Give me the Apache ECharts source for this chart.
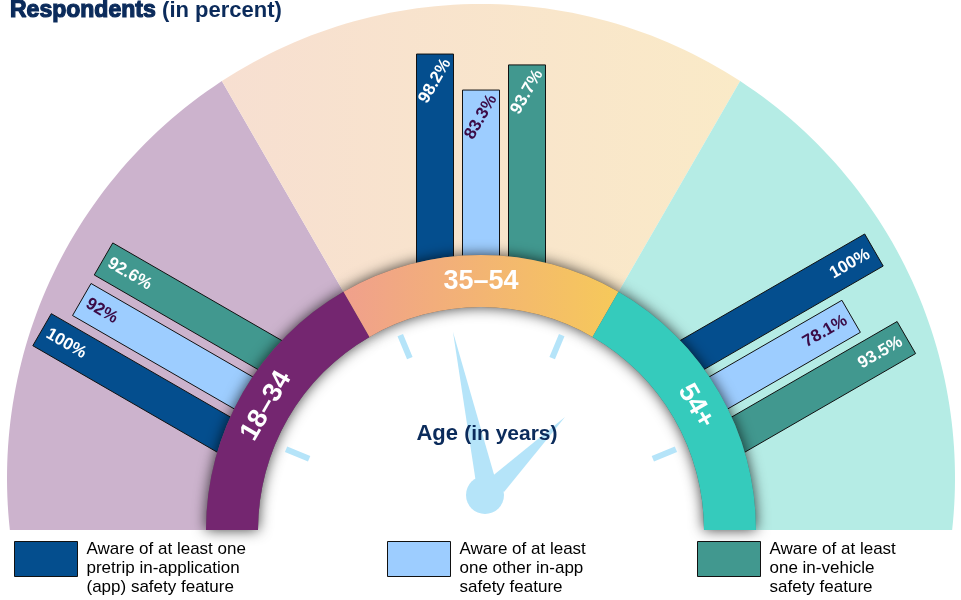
<!DOCTYPE html>
<html>
<head>
<meta charset="utf-8">
<script src="https://cdn.jsdelivr.net/npm/echarts@6/dist/echarts.min.js"></script>
<style>
  html, body { margin: 0; padding: 0; background: #ffffff; }
  #chart { width: 961px; height: 600px; }
</style>
</head>
<body>
<div id="chart"></div>
<script>
// ---- data ----
const ageGroups = ['18–34', '35–54', '54+'];
const pretripApp = [100, 98.2, 100];
const otherInApp = [92, 83.3, 78.1];
const inVehicle = [92.6, 93.7, 93.5];
const featureNames = [
  'Aware of at least one\npretrip in-application\n(app) safety feature',
  'Aware of at least\none other in-app\nsafety feature',
  'Aware of at least\none in-vehicle\nsafety feature'
];
const titleMain = 'Respondents';
const titleUnit = '(in percent)';
const hubMain = 'Age';
const hubUnit = '(in years)';

// ---- styling / layout ----
const NAVY = '#0b2b5b';
const FONT = '"Liberation Sans", Arial, Helvetica, sans-serif';
const CX = 481, CY = 530;            // gauge centre
const BAND_R0 = 223, BAND_R = 275;   // age ring
const BACK_R = 474, BACK_DY = 52;    // backdrop circle (centre raised by BACK_DY)
const BAR_W = 37, BAR_STEP = 46;
const barColors = ['#044e8e', '#9dcdff', '#41988f'];
const barText = ['#ffffff', '#3b0b46', '#ffffff'];
const backdropFill = [
  '#ccb3cd',
  { type: 'linear', x: 0, y: 0, x2: 1, y2: 0, colorStops: [{ offset: 0, color: '#f7dfd1' }, { offset: 1, color: '#faeac7' }] },
  '#b5ece5'
];
const bandFill = [
  '#742670',
  { type: 'linear', x: 0, y: 0, x2: 1, y2: 0, colorStops: [{ offset: 0, color: '#f0a08c' }, { offset: 1, color: '#f6c95a' }] },
  '#35cbbc'
];
// value-label placement per age group: rotation (deg), alignment, inset from bar end
const labelPlacement = [
  { rot: -30, align: 'left', inset: 6 },
  { rot: 60, align: 'center', inset: 27 },
  { rot: 30, align: 'right', inset: 6 }
];
const ACCENT = '#b5e4f9';

function rayAngle(params, api) {
  const cs = params.coordSys;
  const p = api.coord([50, api.value(1)]);
  return Math.atan2(cs.cy - p[1], p[0] - cs.cx);
}

function backR(a) {
  const s = Math.sin(a);
  return BACK_DY * s + Math.sqrt(BACK_DY * BACK_DY * s * s - BACK_DY * BACK_DY + BACK_R * BACK_R);
}

function backdropItem(params, api) {
  const cs = params.coordSys;
  const mid = rayAngle(params, api);
  const half = Math.PI / ageGroups.length / 2;
  const pts = [];
  const N = 60;
  for (let k = 0; k <= N; k++) {
    const a = mid - half + 2 * half * k / N;
    const r = backR(a);
    pts.push([cs.cx + r * Math.cos(a), cs.cy - r * Math.sin(a)]);
  }
  for (let k = N; k >= 0; k--) {
    const a = mid - half + 2 * half * k / N;
    pts.push([cs.cx + BAND_R0 * Math.cos(a), cs.cy - BAND_R0 * Math.sin(a)]);
  }
  return { type: 'polygon', shape: { points: pts }, style: { fill: backdropFill[api.value(1)] }, silent: true };
}

function bandItem(params, api) {
  const cs = params.coordSys;
  const idx = api.value(1);
  const mid = rayAngle(params, api);
  const half = Math.PI / ageGroups.length / 2;
  const shape = { cx: cs.cx, cy: cs.cy, r0: BAND_R0, r: BAND_R, startAngle: -(mid + half), endAngle: -(mid - half), clockwise: true };
  const rm = (BAND_R0 + BAND_R) / 2 - 1;
  return {
    type: 'group',
    children: [
      { type: 'sector', z2: 0, shape: shape, style: { fill: '#666', shadowBlur: 14, shadowColor: 'rgba(0,0,0,0.75)' } },
      { type: 'sector', z2: 1, shape: shape, style: { fill: bandFill[idx] } },
      {
        type: 'text', z2: 2,
        x: cs.cx + rm * Math.cos(mid), y: cs.cy - rm * Math.sin(mid),
        rotation: mid - Math.PI / 2,
        style: { text: ageGroups[idx], fill: '#ffffff', font: 'bold 27px ' + FONT, align: 'center', verticalAlign: 'middle' }
      }
    ]
  };
}

function barRenderer(slot) {
  return function (params, api) {
    const cs = params.coordSys;
    const idx = api.value(1);
    const v = api.value(0);
    const end = api.coord([v, idx]);
    const base = api.coord([0, idx]);
    const dx = end[0] - cs.cx, dy = end[1] - cs.cy;
    const len = Math.hypot(dx, dy);
    const ux = dx / len, uy = dy / len;
    const px = -uy, py = ux;
    const off = (slot - 1) * BAR_STEP;
    const h = BAR_W / 2;
    const pts = [
      [base[0] + px * (off - h), base[1] + py * (off - h)],
      [end[0] + px * (off - h), end[1] + py * (off - h)],
      [end[0] + px * (off + h), end[1] + py * (off + h)],
      [base[0] + px * (off + h), base[1] + py * (off + h)]
    ];
    const lp = labelPlacement[idx];
    const lx = end[0] + px * off - ux * lp.inset;
    const ly = end[1] + py * off - uy * lp.inset;
    return {
      type: 'group',
      children: [
        { type: 'polygon', shape: { points: pts }, style: { fill: barColors[slot], stroke: '#111', lineWidth: 1 } },
        {
          type: 'text', x: lx, y: ly, rotation: lp.rot * Math.PI / 180,
          style: { text: v + '%', fill: barText[slot], font: 'bold 17px ' + FONT, align: lp.align, verticalAlign: 'middle' }
        }
      ]
    };
  };
}

const featureValues = [pretripApp, otherInApp, inVehicle];

const series = [
  {
    type: 'custom', name: 'backdrop', coordinateSystem: 'polar', z: 1, silent: true,
    renderItem: backdropItem, data: ageGroups.map((g, i) => [0, i])
  }
].concat(featureValues.map((vals, s) => ({
  type: 'custom', name: featureNames[s], coordinateSystem: 'polar', z: 2,
  itemStyle: { color: barColors[s], borderColor: '#111', borderWidth: 1 },
  renderItem: barRenderer(s), data: vals.map((v, i) => [v, i])
}))).concat([
  {
    type: 'custom', name: 'age ring', coordinateSystem: 'polar', z: 3, silent: true,
    renderItem: bandItem, data: ageGroups.map((g, i) => [0, i])
  }
]);

// clock face decoration (hour marks, hands, hub)
const graphics = [];
[22.5, 67.5, 112.5, 157.5].forEach(function (deg) {
  const a = deg * Math.PI / 180;
  graphics.push({
    type: 'line', z: 4, silent: true,
    shape: { x1: CX + 186 * Math.cos(a), y1: CY - 186 * Math.sin(a), x2: CX + 211 * Math.cos(a), y2: CY - 211 * Math.sin(a) },
    style: { stroke: ACCENT, lineWidth: 6 }
  });
});
graphics.push({ type: 'polygon', z: 4, silent: true, shape: { points: [[CX - 28, CY - 198], [CX + 14, CY - 52], [CX - 5, CY - 47]] }, style: { fill: ACCENT } });
graphics.push({ type: 'polygon', z: 4, silent: true, shape: { points: [[CX + 84, CY - 113], [CX + 23, CY - 38], [CX + 9, CY - 52]] }, style: { fill: ACCENT } });
graphics.push({ type: 'circle', z: 4, silent: true, shape: { cx: CX + 4, cy: CY - 35, r: 19 }, style: { fill: ACCENT } });
graphics.push({
  type: 'text', z: 5, x: CX + 6, y: CY - 96,
  style: {
    text: '{a|' + hubMain + ' }{b|' + hubUnit + '}', align: 'center', verticalAlign: 'middle',
    rich: { a: { font: 'bold 22px ' + FONT, fill: NAVY }, b: { font: 'bold 21px ' + FONT, fill: NAVY } }
  }
});
graphics.push({
  type: 'text', z: 5, x: 10, y: 11,
  style: {
    text: '{a|' + titleMain + ' }{b|' + titleUnit + '}', align: 'left', verticalAlign: 'middle',
    rich: {
      a: { font: 'bold 23px ' + FONT, fill: NAVY, stroke: NAVY, lineWidth: 1.2 },
      b: { font: 'bold 22px ' + FONT, fill: NAVY }
    }
  }
});

const legendLeft = [14, 387, 697];
const option = {
  animation: false,
  backgroundColor: '#ffffff',
  polar: { center: [CX, CY], radius: [238.7, 480.3] },
  radiusAxis: { type: 'value', min: 0, max: 100, show: false },
  angleAxis: { type: 'category', data: ageGroups, startAngle: 180, endAngle: 0, clockwise: true, boundaryGap: true, show: false },
  legend: featureNames.map(function (n, i) {
    return {
      data: [n], left: legendLeft[i], top: 521, padding: 0, selectedMode: false,
      icon: 'rect', itemWidth: 63, itemHeight: 35, itemGap: 0,
      formatter: function (name) { return '\n' + name; },
      itemStyle: { borderColor: '#111', borderWidth: 1 },
      textStyle: { fontFamily: FONT, fontSize: 17, lineHeight: 19, color: '#000', padding: [0, 0, 0, 4] }
    };
  }),
  graphic: { elements: graphics },
  series: series
};

const chart = echarts.init(document.getElementById('chart'), null, { renderer: 'canvas' });
chart.setOption(option);
</script>
</body>
</html>
